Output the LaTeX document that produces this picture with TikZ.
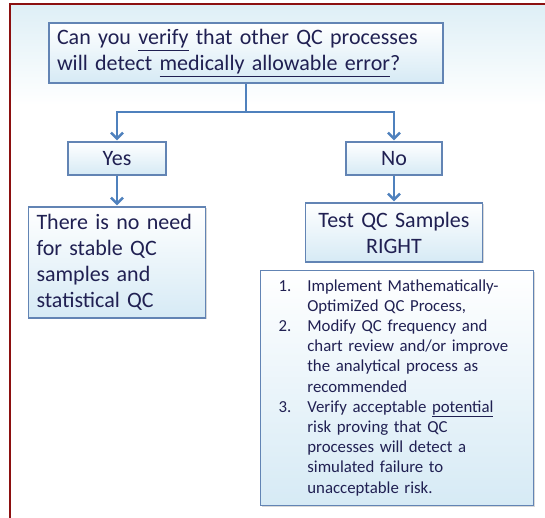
\documentclass[tikz,border=0pt]{standalone}
\usepackage{fontspec}
\setmainfont{Carlito}
\usetikzlibrary{arrows.meta,shadows}
\definecolor{framered}{RGB}{140,16,16}
\definecolor{qcline}{RGB}{79,129,189}
\definecolor{qcedge}{RGB}{98,132,180}
\definecolor{qcfill}{RGB}{214,234,245}
\definecolor{qctext}{RGB}{32,32,82}
\definecolor{bgblue}{RGB}{222,239,246}
\begin{document}
\begin{tikzpicture}[x=1pt, y=1pt,
  qcbox/.style={draw=qcedge, line width=1.2pt, top color=white, bottom color=qcfill, text=qctext,
    inner xsep=8pt, inner ysep=2pt, drop shadow={shadow xshift=1.2pt, shadow yshift=-1.2pt, opacity=0.3}},
  bigtext/.style={font=\fontsize{22}{26}\selectfont},
  conn/.style={draw=qcline, line width=2.5pt},
  arr/.style={conn, -{Straight Barb[length=6pt, width=12pt]}, shorten >=1pt}]
\useasboundingbox (0,0) rectangle (545,-518);
\fill[white] (0,0) rectangle (545,-518);
\shade[top color=bgblue, bottom color=white] (11,-5) rectangle (545,-105);
\draw[framered, line width=2pt] (10,-518) -- (10,-4) -- (545,-4);
% question and answers
\node[qcbox, bigtext, text width=378pt, minimum height=60pt, align=left] (q) at (246,-53) {Can you \underline{verify} that other\ QC processes\\will\ detect \underline{medically\ allowable\ error}?};
\node[qcbox, bigtext, minimum width=98pt, minimum height=33pt] (yes) at (117,-158.5) {Yes};
\node[qcbox, bigtext, minimum width=96pt, minimum height=33pt] (no) at (394,-158.5) {No};
\node[qcbox, bigtext, text width=161pt, minimum height=111pt, align=left] (noneed) at (117,-262.5) {There is no need\\for stable QC\\samples and\\statistical\ QC};
\node[qcbox, bigtext, text width=161pt, minimum height=59pt, align=center] (test) at (394,-232.5) {Test QC Samples\\RIGHT};
% steps
\node[qcbox, font=\fontsize{16.8}{20.2}\selectfont, anchor=north west, text width=237pt, minimum height=235pt, inner xsep=18pt, align=left] (steps) at (260,-270) {\begin{tabular}{@{}l@{\hspace{16pt}}l@{}}
1. & Implement Mathematically-\\
   & OptimiZed QC Process,\\
2. & Modify QC frequency and\\
   & chart review and/or improve\\
   & the analytical process as\\
   & recommended\\
3. & Verify acceptable \underline{potential}\\
   & risk proving that QC\\
   & processes will detect a\\
   & simulated failure to\\
   & unacceptable risk.
\end{tabular}};
% connectors
\coordinate (split) at (246,-112);
\draw[conn] (q.south) -- (split);
\draw[arr] (split) -| (yes.north);
\draw[arr] (split) -| (no.north);
\draw[arr] (yes) -- (noneed);
\draw[arr] (no) -- (test);
\end{tikzpicture}
\end{document}
